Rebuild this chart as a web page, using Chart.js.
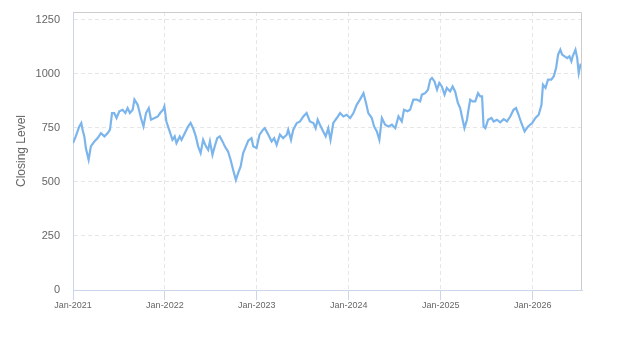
<!DOCTYPE html>
<html>
<head>
<meta charset="utf-8">
<script src="https://cdn.jsdelivr.net/npm/chart.js@4/dist/chart.umd.min.js"></script>
<style>
  html, body { margin: 0; padding: 0; background: #ffffff; }
  #wrap { width: 623px; height: 350px; position: relative; }
</style>
</head>
<body>
<div id="wrap"><canvas id="c"></canvas></div>
<script>
const dates = [
  '2021-01-01','2021-01-12','2021-01-26','2021-02-03','2021-02-08','2021-02-15','2021-02-21','2021-03-04','2021-03-13','2021-03-27',
  '2021-04-09','2021-04-22','2021-05-06','2021-05-19','2021-05-28','2021-06-05','2021-06-14','2021-06-23','2021-07-04','2021-07-17',
  '2021-07-28','2021-08-06','2021-08-15','2021-08-26','2021-09-02','2021-09-15','2021-09-28','2021-10-08','2021-10-18','2021-10-29',
  '2021-11-07','2021-11-21','2021-12-04','2021-12-13','2021-12-25','2021-12-30','2022-01-07','2022-01-20','2022-01-31','2022-02-09',
  '2022-02-16','2022-03-01','2022-03-08','2022-03-21','2022-04-03','2022-04-13','2022-04-23','2022-05-04','2022-05-13','2022-05-23',
  '2022-06-02','2022-06-13','2022-06-22','2022-06-29','2022-07-09','2022-07-18','2022-07-28','2022-08-07','2022-08-18','2022-08-27',
  '2022-09-09','2022-09-19','2022-09-29','2022-10-10','2022-10-19','2022-10-29','2022-11-08','2022-11-19','2022-11-28','2022-12-11',
  '2022-12-18','2022-12-31','2023-01-12','2023-01-26','2023-02-02','2023-02-16','2023-03-01','2023-03-11','2023-03-21','2023-04-03',
  '2023-04-16','2023-04-30','2023-05-06','2023-05-17','2023-05-26','2023-06-09','2023-06-22','2023-07-05','2023-07-18','2023-07-31',
  '2023-08-14','2023-08-23','2023-08-31','2023-09-09','2023-09-22','2023-10-02','2023-10-12','2023-10-21','2023-11-01','2023-11-15',
  '2023-11-28','2023-12-11','2023-12-24','2024-01-07','2024-01-20','2024-02-02','2024-02-15','2024-02-29','2024-03-10','2024-03-19',
  '2024-04-02','2024-04-11','2024-04-22','2024-05-02','2024-05-12','2024-05-25','2024-06-07','2024-06-21','2024-07-04','2024-07-17',
  '2024-07-30','2024-08-08','2024-08-22','2024-09-01','2024-09-14','2024-09-28','2024-10-11','2024-10-18','2024-10-31','2024-11-11',
  '2024-11-20','2024-11-27','2024-12-07','2024-12-17','2024-12-26','2025-01-05','2025-01-16','2025-01-25','2025-02-07','2025-02-17',
  '2025-02-27','2025-03-10','2025-03-19','2025-03-26','2025-04-05','2025-04-15','2025-04-21','2025-04-28','2025-05-07','2025-05-18',
  '2025-05-29','2025-06-07','2025-06-14','2025-06-20','2025-06-27','2025-07-08','2025-07-21','2025-07-30','2025-08-12','2025-08-25',
  '2025-09-08','2025-09-21','2025-10-04','2025-10-17','2025-10-27','2025-11-06','2025-11-17','2025-11-30','2025-12-14','2025-12-30',
  '2026-01-12','2026-01-25','2026-02-05','2026-02-11','2026-02-21','2026-03-03','2026-03-16','2026-03-26','2026-04-04','2026-04-12',
  '2026-04-21','2026-04-28','2026-05-08','2026-05-18','2026-05-27','2026-06-04','2026-06-09','2026-06-20','2026-06-27','2026-07-03',
  '2026-07-10','2026-07-16'
];
const closingLevels = [
  679,710,756,772,741,710,656,602,664,687,
  702,725,710,725,741,818,818,795,826,833,
  818,841,818,833,880,856,795,756,818,841,
  787,795,802,818,833,849,779,733,694,710,
  679,710,694,725,756,772,748,710,664,633,
  694,664,648,687,625,664,702,710,687,664,
  640,602,556,509,540,571,633,664,690,702,
  664,656,718,741,748,718,687,702,671,718,
  702,718,741,694,741,772,779,802,818,779,
  772,748,787,764,733,710,748,694,772,795,
  818,802,810,795,818,856,880,910,864,818,
  795,756,733,694,795,764,756,764,748,802,
  779,833,826,833,880,880,872,903,910,926,
  972,980,964,926,957,941,903,934,918,941,
  918,864,841,802,748,787,833,880,872,872,
  910,895,895,756,748,787,795,779,787,775,
  790,779,802,833,841,810,772,733,756,772,
  795,810,856,949,934,972,972,988,1026,1088,
  1111,1088,1080,1072,1080,1057,1080,1111,1072,1003,
  1042,1042
];
const xTickDates = ['2021-01-01','2022-01-01','2023-01-01','2024-01-01','2025-01-01','2026-01-01'];
const xTickLabels = ['Jan-2021','Jan-2022','Jan-2023','Jan-2024','Jan-2025','Jan-2026'];
const yTickValues = [0, 250, 500, 750, 1000, 1250];
const yAxisTitle = 'Closing Level';

function toTime(s) {
  const p = s.split('-').map(Number);
  return Date.UTC(p[0], p[1] - 1, p[2]);
}
const points = dates.map((d, i) => ({ x: toTime(d), y: closingLevels[i] }));
const xTickTimes = xTickDates.map(toTime);

const plotBorder = {
  id: 'plotBorder',
  afterDraw(chart) {
    const a = chart.chartArea;
    const ctx = chart.ctx;
    ctx.save();
    ctx.strokeStyle = '#cccccc';
    ctx.lineWidth = 1;
    ctx.beginPath();
    ctx.moveTo(Math.round(a.left) + 0.5, Math.round(a.top) + 0.5);
    ctx.lineTo(Math.round(a.right) - 0.5, Math.round(a.top) + 0.5);
    ctx.lineTo(Math.round(a.right) - 0.5, Math.round(a.bottom));
    ctx.stroke();
    ctx.restore();
  }
};

new Chart(document.getElementById('c'), {
  type: 'line',
  data: {
    datasets: [{
      data: points,
      borderColor: '#7cb5ec',
      borderWidth: 2.2,
      pointRadius: 0,
      tension: 0,
      fill: false
    }]
  },
  options: {
    responsive: true,
    maintainAspectRatio: false,
    animation: false,
    layout: { padding: { left: 0, top: 12, right: 41, bottom: 0 } },
    plugins: { legend: { display: false }, tooltip: { enabled: false } },
    scales: {
      x: {
        type: 'linear',
        min: toTime(dates[0]),
        max: toTime(dates[dates.length - 1]),
        afterBuildTicks(scale) { scale.ticks = xTickTimes.map(v => ({ value: v })); },
        afterFit(scale) { scale.height = 60; scale.paddingRight = 0; },
        grid: {
          color: '#e6e6e6',
          lineWidth: 1,
          drawTicks: true,
          tickLength: 10,
          tickColor: '#ccd6eb',
          tickBorderDash: []
        },
        border: { display: true, color: '#ccd6eb', width: 1, dash: [4, 3] },
        ticks: {
          color: '#666666',
          font: { family: 'Liberation Sans, Arial, sans-serif', size: 9 },
          padding: 0,
          maxRotation: 0,
          autoSkip: false,
          callback(v) {
            const i = xTickTimes.indexOf(v);
            return i >= 0 ? xTickLabels[i] : '';
          }
        }
      },
      y: {
        min: 0,
        max: 1285,
        afterBuildTicks(scale) { scale.ticks = yTickValues.map(v => ({ value: v })); },
        afterFit(scale) { scale.width = 73; scale.paddingTop = 0; scale.paddingBottom = 0; },
        grid: { color: '#e6e6e6', lineWidth: 1, drawTicks: false },
        border: { display: true, color: '#ccd6eb', width: 1, dash: [4, 3] },
        ticks: {
          color: '#666666',
          font: { family: 'Liberation Sans, Arial, sans-serif', size: 11 },
          padding: 13,
          callback(v) { return String(v); }
        },
        title: {
          display: true,
          text: yAxisTitle,
          color: '#666666',
          font: { family: 'Liberation Sans, Arial, sans-serif', size: 12 },
          padding: { top: 14, bottom: 0 }
        }
      }
    }
  },
  plugins: [plotBorder]
});
</script>
</body>
</html>
